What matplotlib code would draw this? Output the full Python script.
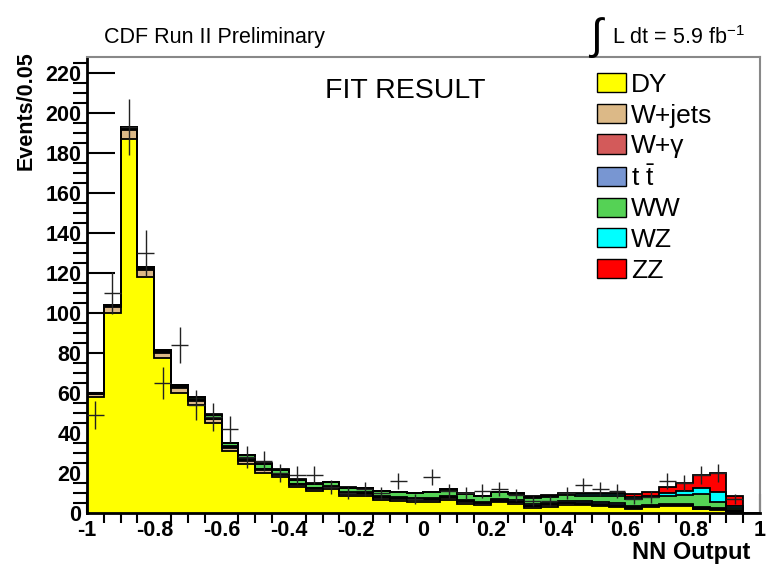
import matplotlib as mpl
mpl.use('Agg')
import matplotlib.pyplot as plt
from matplotlib.patches import Patch
import numpy as np

plt.rcParams['font.family'] = ['Liberation Sans', 'DejaVu Sans']
plt.rcParams['mathtext.fontset'] = 'custom'
plt.rcParams['mathtext.rm'] = 'Liberation Sans'
plt.rcParams['mathtext.default'] = 'regular'

# bin edges of NN output (40 bins of 0.05)
edges = np.round(np.linspace(-1.0, 1.0, 41), 3)

# stacked backgrounds (events / bin)
dy = [58, 100, 187, 118, 77.3, 60, 54, 44.8, 31, 24.5,
      19.8, 17.8, 12.8, 11, 11.8, 8.5, 8.5, 6.5, 6.2, 5.7,
      5.7, 6.5, 4.5, 4.0, 5.3, 4.5, 2.3, 3.2, 4.0, 4.0,
      3.5, 2.8, 1.8, 2.8, 3.5, 3.5, 1.8, 1.5, 0.5, 0]
wjets = [1.5, 3.2, 4.5, 3.5, 2.8, 2.5, 2.2, 2.0, 1.6, 1.6,
         1.6, 1.2, 1.2, 1.0, 1.0, 1.1, 1.0, 1.1, 1.0, 1.0,
         1.0, 1.2, 1.0, 0.8, 0.8, 0.8, 1.0, 0.8, 0.8, 0.7,
         0.7, 0.8, 0.7, 0.5, 0.4, 0.4, 0.4, 0.4, 0.3, 0]
wgamma = [0.2, 0.3, 0.5, 0.5, 0.4, 0.4, 0.4, 0.4, 0.4, 0.4,
          0.4, 0.4, 0.4, 0.4, 0.3, 0.4, 0.4, 0.4, 0.3, 0.3,
          0.3, 0.4, 0.3, 0.3, 0.3, 0.3, 0.4, 0.4, 0.4, 0.3,
          0.3, 0.4, 0.3, 0.3, 0.2, 0.2, 0.2, 0.2, 0.2, 0]
ttbar = [0.1, 0.1, 0.2, 0.2, 0.2, 0.2, 0.2, 0.3, 0.3, 0.3,
         0.3, 0.3, 0.3, 0.3, 0.3, 0.4, 0.4, 0.5, 0.5, 0.5,
         0.6, 0.6, 0.6, 0.6, 0.7, 0.7, 0.8, 0.8, 0.8, 0.8,
         0.8, 0.8, 0.6, 0.5, 0.4, 0.3, 0.4, 0.5, 0.3, 0]
ww = [0.2, 0.4, 0.8, 0.8, 0.8, 0.9, 1.2, 1.6, 1.5, 2.0,
      2.5, 1.9, 1.9, 1.9, 1.9, 2.2, 2.2, 2.5, 2.3, 2.5,
      2.8, 3.0, 3.0, 2.6, 3.2, 3.4, 3.2, 2.8, 3.1, 2.9,
      3.3, 3.6, 3.4, 3.8, 4.0, 4.6, 6.7, 3.0, 1.1, 0]
wz = [0, 0, 0, 0, 0, 0, 0, 0.1, 0.1, 0.1,
      0.1, 0.1, 0.1, 0.1, 0.1, 0.1, 0.1, 0.1, 0.1, 0.1,
      0.2, 0.2, 0.2, 0.2, 0.2, 0.3, 0.4, 0.5, 0.6, 0.6,
      0.8, 0.9, 1.0, 0.8, 1.7, 2.2, 3.2, 4.7, 1.3, 0]
zz = [0, 0, 0, 0, 0, 0, 0, 0.1, 0.1, 0.1,
      0.1, 0.1, 0.1, 0.1, 0.1, 0.1, 0.1, 0.1, 0.1, 0.1,
      0.1, 0.1, 0.2, 0.2, 0.2, 0.2, 0.4, 0.5, 0.5, 0.5,
      0.8, 0.9, 1.7, 2.0, 3.0, 4.0, 6.3, 9.5, 4.8, 0]

# observed data
data = [49, 110, 193, 130, 65, 84, 54, 48, 42, 28,
        26, 20, 19, 19, 13, 10, 12, 10, 16, 7,
        18, 11, 10, 11, 12, 9, 6, 6, 10, 14,
        12, 11, 7, 8, 16, 15, 19, 20, 7, 0]

labels = ['DY', 'W+jets', 'W+γ', r't $\bar{\mathrm{t}}$', 'WW', 'WZ', 'ZZ']
colors = ['#ffff00', '#dcb987', '#d35a5a', '#7896d2', '#55d255', '#00ffff', '#ff0000']
stack = [dy, wjets, wgamma, ttbar, ww, wz, zz]


fig = plt.figure(figsize=(7.73, 5.67), dpi=100)
ax = fig.add_axes([87/773, 1-513/567, 673/773, 456/567])

# stacked histogram
lower = np.zeros(len(dy))
for vals, col in zip(stack, colors):
    upper = lower + np.array(vals, dtype=float)
    ax.stairs(upper, edges, baseline=lower, fill=True, color=col, zorder=2)
    lower = upper
lower = np.zeros(len(dy))
for vals in stack:
    upper = lower + np.array(vals, dtype=float)
    ax.stairs(upper, edges, baseline=None, color='black', lw=1.3, zorder=3)
    lower = upper

# data crosses
centers = 0.5 * (edges[:-1] + edges[1:])
d = np.array(data, dtype=float)
m = d > 0
ax.errorbar(centers[m], d[m], xerr=0.025, yerr=np.sqrt(d[m]), fmt='none',
            ecolor='#222222', elinewidth=1.0, capsize=0, zorder=4)

ax.set_xlim(-1, 1)
ax.set_ylim(0, 228)
ax.set_xticks(np.round(np.arange(-1, 1.01, 0.2), 1))
ax.set_xticklabels(['-1', '-0.8', '-0.6', '-0.4', '-0.2', '0', '0.2', '0.4', '0.6', '0.8', '1'])
ax.set_xticks(np.arange(-1, 1.001, 0.05), minor=True)
ax.set_yticks(np.arange(0, 221, 20))
ax.set_yticks(np.arange(0, 226, 5), minor=True)
ax.tick_params(direction='in', labelsize=15.5, width=1.5)
ax.tick_params(axis='x', which='major', length=14, pad=5)
ax.tick_params(axis='x', which='minor', length=7, width=1.5)
ax.tick_params(axis='y', which='major', length=20, pad=4)
ax.tick_params(axis='y', which='minor', length=10, width=1.5)
for lab in ax.get_xticklabels() + ax.get_yticklabels():
    lab.set_fontweight('bold')

ax.spines['left'].set_linewidth(2)
ax.spines['bottom'].set_linewidth(2)
ax.spines['top'].set_color('#888888')
ax.spines['right'].set_color('#888888')
ax.spines['top'].set_linewidth(1.5)
ax.spines['right'].set_linewidth(1.5)

ax.set_ylabel('Events/0.05', fontsize=15.5, fontweight='bold', loc='top')
ax.yaxis.set_label_coords(-0.075, 1.012)
ax.set_xlabel('NN Output', fontsize=17, fontweight='bold', loc='right')
ax.xaxis.set_label_coords(0.985, -0.062)

ax.text(0.354, 0.925, 'FIT RESULT', transform=ax.transAxes, fontsize=20.5,
        ha='left', va='center')
fig.text(104/773, 1-38/567, 'CDF Run II Preliminary', fontsize=15.5, va='center')
fig.text(588/773, 1-38/567, r'$\int$', fontsize=31, va='center')
fig.text(612/773, 1-38/567, 'L dt = 5.9 fb$^{-1}$', fontsize=15.5, va='center')

handles = [Patch(facecolor=c, edgecolor='black', lw=1) for c in colors]
ax.legend(handles, labels, loc='upper left', bbox_to_anchor=(597/773, 1-73/567),
          bbox_transform=fig.transFigure, frameon=False, fontsize=19,
          handlelength=1.1, handleheight=0.75, handletextpad=0.2,
          labelspacing=0.25, borderpad=0, borderaxespad=0)

fig.savefig('out.png', dpi=100)
